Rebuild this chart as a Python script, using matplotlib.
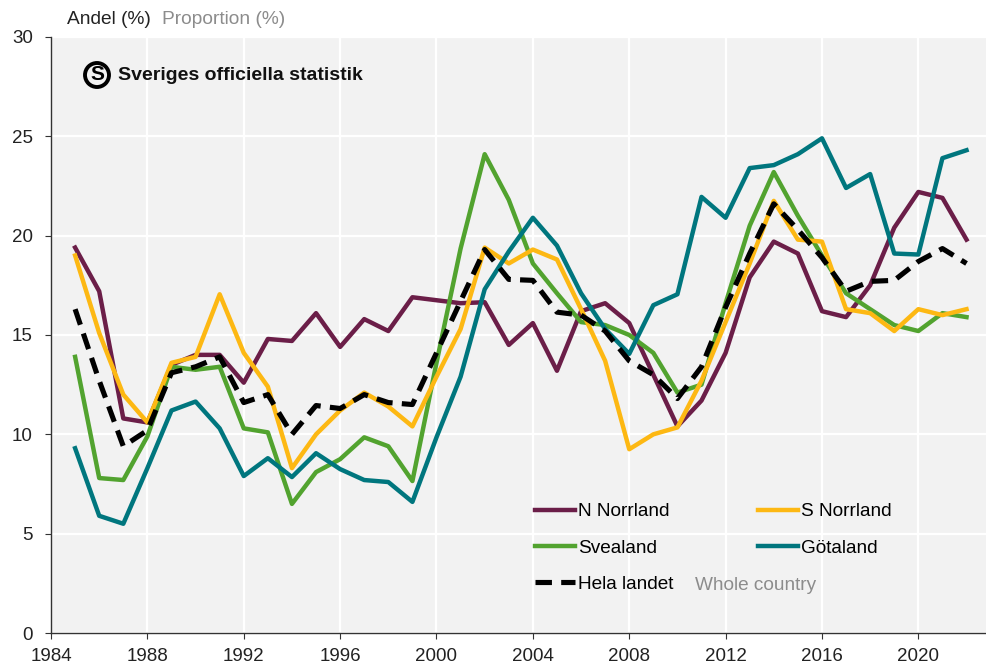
import matplotlib
matplotlib.use("Agg")
import matplotlib.pyplot as plt

plt.rcParams['font.family'] = ['Liberation Sans', 'DejaVu Sans']

years = list(range(1985, 2023))

n_norrland = [19.4, 17.2, 10.8, 10.6, 13.5, 14.0, 14.0, 12.6, 14.8, 14.7,
              16.1, 14.4, 15.8, 15.2, 16.9, 16.75, 16.6, 16.65, 14.5, 15.6,
              13.2, 16.2, 16.6, 15.6, 13.0, 10.4, 11.7, 14.1, 17.9, 19.7,
              19.1, 16.2, 15.9, 17.5, 20.4, 22.2, 21.9, 19.8]
s_norrland = [19.0, 15.1, 12.0, 10.6, 13.6, 13.9, 17.05, 14.1, 12.4, 8.3,
              10.0, 11.2, 12.1, 11.4, 10.4, 12.9, 15.3, 19.4, 18.6, 19.3,
              18.8, 16.3, 13.7, 9.25, 10.0, 10.35, 12.7, 15.65, 18.6, 21.75,
              19.8, 19.7, 16.3, 16.1, 15.2, 16.3, 16.0, 16.3]
svealand = [13.9, 7.8, 7.7, 9.9, 13.4, 13.25, 13.4, 10.3, 10.1, 6.5,
            8.1, 8.75, 9.85, 9.4, 7.65, 13.6, 19.35, 24.1, 21.8, 18.6,
            17.1, 15.65, 15.5, 15.0, 14.1, 12.1, 12.5, 16.6, 20.5, 23.2,
            21.0, 19.0, 17.1, 16.3, 15.5, 15.2, 16.1, 15.9]
gotaland = [9.3, 5.9, 5.5, 8.3, 11.2, 11.65, 10.3, 7.9, 8.8, 7.85,
            9.05, 8.25, 7.7, 7.6, 6.6, 9.85, 12.9, 17.3, 19.2, 20.9,
            19.5, 17.1, 15.3, 14.05, 16.5, 17.05, 21.95, 20.9, 23.4, 23.55,
            24.1, 24.9, 22.4, 23.1, 19.1, 19.05, 23.9, 24.3]
hela_landet = [16.3, 12.7, 9.4, 10.2, 13.1, 13.4, 13.9, 11.6, 12.0, 10.0,
               11.45, 11.3, 12.0, 11.6, 11.5, 14.1, 16.7, 19.3, 17.8, 17.75,
               16.15, 16.0, 15.2, 13.7, 13.0, 11.8, 13.4, 16.4, 19.1, 21.6,
               20.3, 18.9, 17.2, 17.7, 17.75, 18.7, 19.35, 18.6]

x_ticks = list(range(1984, 2021, 4))
y_ticks = [0, 5, 10, 15, 20, 25, 30]

fig = plt.figure(figsize=(9.87, 6.66), dpi=100)
ax = fig.add_axes([0.0517, 0.0495, 0.9483, 0.895])
ax.set_facecolor('#f2f2f2')

lw = 3.2
ax.plot(years, n_norrland, color='#6b1e48', lw=lw, label='N Norrland')
ax.plot(years, svealand, color='#52a32f', lw=lw, label='Svealand')
ax.plot(years, s_norrland, color='#fdb813', lw=lw, label='S Norrland')
ax.plot(years, gotaland, color='#00767e', lw=lw, label='Götaland')
ax.plot(years, hela_landet, color='black', lw=3.7, dashes=(3.2, 1.8),
        label='Hela landet')

ax.set_xlim(1984, 2022.85)
ax.set_ylim(0, 30)
ax.set_xticks(x_ticks)
ax.set_yticks(y_ticks)
ax.grid(True, color='white', lw=1.6)
ax.set_axisbelow(True)
for side in ['top', 'right']:
    ax.spines[side].set_visible(False)
for side in ['left', 'bottom']:
    ax.spines[side].set_color('#333333')
    ax.spines[side].set_linewidth(1.0)
ax.tick_params(axis='both', labelsize=13.5, colors='#333333', length=4.5,
               labelcolor='#222222')
ax.tick_params(axis='x', pad=6)
ax.tick_params(axis='y', pad=8.5)

# legend, two columns
h, l = ax.get_legend_handles_labels()
order = [0, 1, 4, 2, 3]
leg = ax.legend([h[i] for i in order], [l[i] for i in order], ncol=2,
                frameon=False, fontsize=13.7, loc='upper left',
                bbox_to_anchor=(0.517, 0.218), handlelength=2.1,
                handletextpad=0.15, columnspacing=4.45, labelspacing=1.0,
                borderaxespad=0, borderpad=0)
fig.text(695 / 987, (666 - 585) / 666, 'Whole country', fontsize=13.7,
         color='#8c8c8c', va='center')

# header
fig.text(67 / 987, (666 - 19) / 666, 'Andel (%)', fontsize=13.8, color='#222222',
         va='center')
fig.text(162 / 987, (666 - 19) / 666, 'Proportion (%)', fontsize=13.8,
         color='#8c8c8c', va='center')

# logo
fig.text(97 / 987, (666 - 75) / 666, 'S', fontsize=15, fontweight='bold',
         ha='center', va='center',
         bbox=dict(boxstyle='circle,pad=0.12', fc='none', ec='black', lw=2.8))
fig.text(118 / 987, (666 - 75) / 666, 'Sveriges officiella statistik',
         fontsize=14, fontweight='bold', va='center', color='#111111')

fig.savefig('out.png', dpi=100)
plt.close(fig)
